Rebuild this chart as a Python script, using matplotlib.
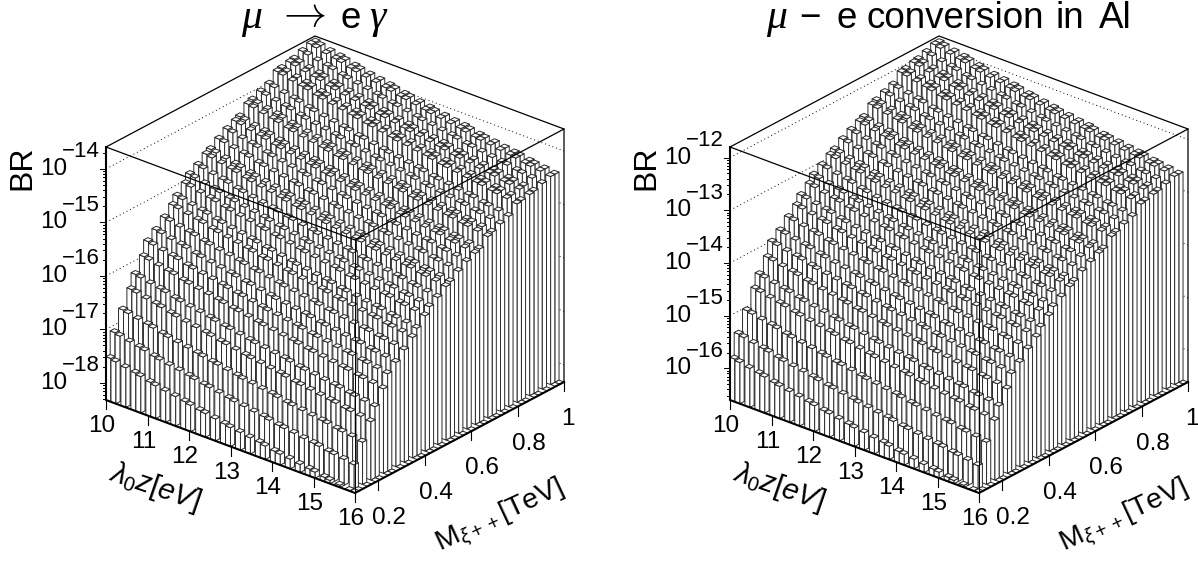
import numpy as np
import matplotlib
matplotlib.use("Agg")
import matplotlib.pyplot as plt
from matplotlib.collections import PolyCollection

plt.rcParams['font.family'] = ['Liberation Sans', 'DejaVu Sans']
plt.rcParams['mathtext.fontset'] = 'custom'
plt.rcParams['mathtext.rm'] = 'Liberation Sans'
plt.rcParams['mathtext.it'] = 'Liberation Sans:italic'

# histogram bins that hold a point (50 x 50 bins, 31 points per axis)
n_bins = 50
lambda_bins = [0, 1, 3, 5, 6, 8, 9, 11, 13, 15, 16, 18, 19, 21, 23, 24, 26, 28, 30, 31, 33, 34, 36, 38, 40, 41, 43, 44, 46, 48, 49]
mass_bins = [0, 1, 3, 5, 6, 8, 9, 11, 13, 15, 16, 18, 19, 21, 23, 24, 26, 28, 30, 31, 33, 34, 36, 38, 40, 41, 43, 44, 46, 48, 49]

# Values are estimates from the picture. Most bars are hidden, so each bar is
# (log10 BR along the lambda=10 edge) minus (drop along lambda), not read singly.
log_br_meg = [-17.51, -17.07, -16.73, -16.43, -16.19, -15.94, -15.70, -15.57, -15.42, -15.27, -15.14,
              -14.99, -14.86, -14.77, -14.65, -14.60, -14.49, -14.39, -14.32, -14.28, -14.13, -14.09,
              -14.02, -13.96, -13.81, -13.79, -13.76, -13.74, -13.68, -13.63, -13.63]
log_br_conv = [-15.79, -15.36, -15.00, -14.67, -14.44, -14.20, -13.95, -13.82, -13.65, -13.51, -13.36,
               -13.23, -13.10, -13.00, -12.89, -12.83, -12.72, -12.63, -12.55, -12.51, -12.36, -12.32,
               -12.25, -12.19, -12.04, -12.02, -11.98, -11.96, -11.91, -11.85, -11.85]
# last row is flat on the floor in the picture, 9 puts it below the axis minimum
lambda_drop = [0.00, 0.03, 0.07, 0.10, 0.13, 0.17, 0.20, 0.23, 0.26, 0.29, 0.32, 0.35, 0.37, 0.40, 0.43, 0.46,
               0.48, 0.51, 0.53, 0.56, 0.59, 0.61, 0.63, 0.66, 0.68, 0.70, 0.73, 0.75, 0.77, 0.80, 9.00]

lambda_ticks = [10, 11, 12, 13, 14, 15, 16]
mass_ticks = [0.2, 0.4, 0.6, 0.8, 1.0]
mass_tick_labels = ["0.2", "0.4", "0.6", "0.8", "1"]
meg_decades = [-18, -17, -16, -15, -14]
conv_decades = [-16, -15, -14, -13, -12]

LAM_MIN, LAM_MAX = 10.0, 16.0
MASS_MIN, MASS_MAX = 0.1, 1.0
TICK_SIZE = 17.5


class Box:
    def __init__(self, shift, zmin, zmax):
        self.shift = shift
        self.zmin = zmin
        self.zmax = zmax

    def project(self, lam, mass, z):
        a = (lam - LAM_MIN) / (LAM_MAX - LAM_MIN)
        b = (mass - MASS_MIN) / (MASS_MAX - MASS_MIN)
        c = (z - self.zmin) / (self.zmax - self.zmin)
        return (106 + self.shift + 249 * a + 209 * b, 400 + 93 * a - 111 * b - 253 * c)


def draw_walls(ax, box, decades):
    for d in decades:
        p0 = box.project(LAM_MIN, MASS_MIN, d)
        p1 = box.project(LAM_MIN, MASS_MAX, d)
        p2 = box.project(LAM_MAX, MASS_MAX, d)
        ax.plot([p0[0], p1[0], p2[0]], [p0[1], p1[1], p2[1]], color="black", lw=0.7,
                linestyle=(0, (1, 3)), zorder=1)
    corners = [box.project(LAM_MIN, MASS_MIN, box.zmax), box.project(LAM_MIN, MASS_MAX, box.zmax),
               box.project(LAM_MAX, MASS_MAX, box.zmax), box.project(LAM_MAX, MASS_MAX, box.zmin)]
    ax.plot([p[0] for p in corners], [p[1] for p in corners], color="black", lw=0.9, zorder=1)


def draw_bars(ax, box, log_br):
    dlam = (LAM_MAX - LAM_MIN) / n_bins
    dmass = (MASS_MAX - MASS_MIN) / n_bins
    polys = []
    # back to front: low lambda first, high mass first
    for i, bi in enumerate(lambda_bins):
        for j in range(len(mass_bins) - 1, -1, -1):
            bj = mass_bins[j]
            z = max(log_br[j] - lambda_drop[i], box.zmin)
            l0, l1 = LAM_MIN + bi * dlam, LAM_MIN + (bi + 1) * dlam
            m0, m1 = MASS_MIN + bj * dmass, MASS_MIN + (bj + 1) * dmass
            if z > box.zmin:
                polys.append([box.project(l0, m0, box.zmin), box.project(l1, m0, box.zmin),
                              box.project(l1, m0, z), box.project(l0, m0, z)])
                polys.append([box.project(l1, m0, box.zmin), box.project(l1, m1, box.zmin),
                              box.project(l1, m1, z), box.project(l1, m0, z)])
            polys.append([box.project(l0, m0, z), box.project(l1, m0, z),
                          box.project(l1, m1, z), box.project(l0, m1, z)])
    ax.add_collection(PolyCollection(polys, facecolors="white", edgecolors="#2a2a2a",
                                     linewidths=0.7, zorder=2))


def draw_frame(ax, box, decades):
    top_l = box.project(LAM_MIN, MASS_MIN, box.zmax)
    top_f = box.project(LAM_MAX, MASS_MIN, box.zmax)
    top_r = box.project(LAM_MAX, MASS_MAX, box.zmax)
    bot_l = box.project(LAM_MIN, MASS_MIN, box.zmin)
    bot_f = box.project(LAM_MAX, MASS_MIN, box.zmin)
    bot_r = box.project(LAM_MAX, MASS_MAX, box.zmin)
    ax.plot([top_l[0], top_f[0], top_r[0]], [top_l[1], top_f[1], top_r[1]], color="black", lw=0.9, zorder=3)
    ax.plot([top_f[0], bot_f[0]], [top_f[1], bot_f[1]], color="black", lw=0.7, zorder=3)
    ax.plot([top_l[0], bot_l[0], bot_f[0], bot_r[0]], [top_l[1], bot_l[1], bot_f[1], bot_r[1]],
            color="black", lw=1.5, zorder=4)

    # lambda axis
    for t in lambda_ticks:
        p = box.project(t, MASS_MIN, box.zmin)
        ax.plot([p[0], p[0]], [p[1], p[1] + 9], color="black", lw=0.8, zorder=4)
        ax.text(p[0] - 4, p[1] + 26, str(t), fontsize=TICK_SIZE, ha="center", va="center")
    # mass axis
    for t, lab in zip(mass_ticks, mass_tick_labels):
        p = box.project(LAM_MAX, t, box.zmin)
        ax.plot([p[0], p[0]], [p[1], p[1] + 9], color="black", lw=0.8, zorder=4)
        off = 4 if lab == "1" else 11
        ax.text(p[0] + off, p[1] + 37, lab, fontsize=TICK_SIZE, ha="center", va="center")
    # log z axis
    for d in range(decades[0] - 1, decades[-1] + 1):
        for m in range(1, 10):
            z = d + np.log10(m)
            if z < box.zmin or z > box.zmax:
                continue
            p = box.project(LAM_MIN, MASS_MIN, z)
            ln = 6 if m == 1 else 3.5
            ax.plot([p[0] - ln, p[0]], [p[1], p[1]], color="black", lw=0.7, zorder=4)
    x_left = box.project(LAM_MIN, MASS_MIN, box.zmin)[0]
    for d in decades:
        p = box.project(LAM_MIN, MASS_MIN, d)
        ax.text(x_left - 39, p[1], "10", fontsize=TICK_SIZE, ha="right", va="center")
        ax.text(x_left - 44, p[1] - 17, "\u2212" + str(abs(d)), fontsize=16, ha="left", va="center")

    s = box.shift
    ax.text(22 + s, 168, "BR", fontsize=23, rotation=90, ha="center", va="center")
    ax.text(155 + s, 487, r"$\lambda_{0}z[eV]$", fontsize=21, rotation=-19, ha="center", va="center",
            rotation_mode="anchor")
    ax.text(500 + s, 517, r"M$_{\xi++}$[TeV]", fontsize=20.5, rotation=25, ha="center", va="center",
            rotation_mode="anchor")


fig = plt.figure(figsize=(11.98, 5.69), dpi=100)
ax = fig.add_axes([0, 0, 1, 1])
ax.set_xlim(0, 1198)
ax.set_ylim(569, 0)
ax.axis("off")

box_meg = Box(0, -18.32, -13.59)
box_conv = Box(624, -16.60, -11.80)

for box, log_br, decades in [(box_meg, log_br_meg, meg_decades), (box_conv, log_br_conv, conv_decades)]:
    draw_walls(ax, box, decades)
    draw_bars(ax, box, log_br)
    draw_frame(ax, box, decades)

# titles, set piece by piece like the original
greek = dict(family="Liberation Serif", style="italic", fontsize=30, va="baseline")
plain = dict(fontsize=26.5, va="baseline")
ax.text(241, 28, "\u03bc", **greek)
ax.text(301, 15, r"$\rightarrow$", math_fontfamily="cm", fontsize=31, ha="center", va="center")
ax.text(341, 28, "e", **plain)
ax.text(369, 28, "\u03b3", **greek)
ax.text(766, 28, "\u03bc", **greek)
ax.text(799, 28, "\u2212", **plain)
ax.text(836, 28, "e", **plain)
ax.text(866, 28, "conversion", **plain)
ax.text(1056, 28, "in", **plain)
ax.text(1099, 28, "Al", **plain)

fig.savefig("out.png", dpi=100)
